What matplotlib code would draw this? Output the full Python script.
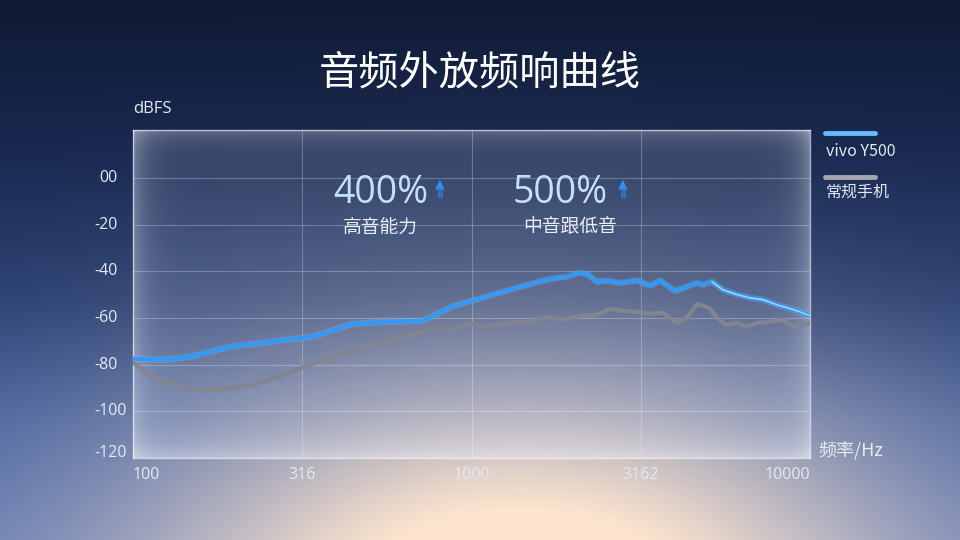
import numpy as np
import matplotlib
matplotlib.use("Agg")
import matplotlib.pyplot as plt
import matplotlib.patheffects as pe

plt.rcParams['font.family'] = ['Noto Sans CJK SC', 'DejaVu Sans']

# ---------------- data ----------------
title = "音频外放频响曲线"
series_names = ["vivo Y500", "常规手机"]
x_ticks = [100, 316, 1000, 3162, 10000]
x_tick_labels = ["100", "316", "1000", "3162", "10000"]
y_ticks = [0, -20, -40, -60, -80, -100, -120]
y_tick_labels = ["00", "-20", "-40", "-60", "-80", "-100", "-120"]

vivo_freq = [100, 123, 147, 194, 254, 340, 447, 563, 719, 882, 1391, 1705, 1915,
             2092, 2194, 2349, 2514, 2746, 3083, 3368, 3606, 3992, 4330, 4637,
             4830, 5134, 5534, 6086, 6649, 7264, 7991, 8729, 9342, 10000]
vivo_db = [-77.5, -77.9, -76.6, -72.4, -70.2, -68.0, -62.5, -61.7, -61.2, -55.0,
           -46.7, -43.3, -42.4, -40.7, -41.2, -44.5, -44.1, -45.0, -44.0, -46.2,
           -44.0, -48.4, -46.6, -45.0, -45.8, -44.5, -48.0, -50.0, -51.4, -52.2,
           -54.4, -56.0, -57.4, -59.1]

normal_freq = [100, 108.5, 124, 147, 169, 194, 226, 272, 318, 382, 447, 537, 628,
               770, 882, 990, 1060, 1214, 1391, 1489, 1672, 1864, 2092, 2349, 2566,
               2803, 3083, 3368, 3679, 4047, 4330, 4637, 5031, 5386, 5648, 6086,
               6516, 6973, 7619, 8323, 8908, 10000]
normal_db = [-79.0, -83.0, -87.5, -90.3, -90.8, -90.3, -88.6, -85.0, -81.0, -77.0,
             -73.7, -70.5, -68.0, -64.7, -65.0, -62.5, -63.8, -62.8, -61.7, -61.7,
             -59.5, -60.8, -59.1, -58.7, -56.1, -57.0, -57.4, -58.2, -57.8, -62.1,
             -60.0, -54.0, -55.7, -60.8, -63.0, -62.1, -63.8, -62.1, -61.7, -60.8,
             -63.8, -62.1]

annotations = [("400%", "高音能力"), ("500%", "中音跟低音")]

# ---------------- figure ----------------
W, H = 960, 540
fig = plt.figure(figsize=(9.6, 5.4), dpi=100)

# background
bg = fig.add_axes([0, 0, 1, 1], zorder=-10)
yy, xx = np.mgrid[0:H, 0:W].astype(float)
stops_y = [0, 150, 300, 420, 540]
stops_c = np.array([[16, 26, 52], [24, 40, 80], [42, 64, 115], [70, 98, 158], [92, 118, 178]], float)
base = np.stack([np.interp(yy, stops_y, stops_c[:, i]) for i in range(3)], axis=-1)
dx = (xx - 520) / 470.0
dy = (yy - 620) / 290.0
w = np.exp(-(dx ** 2 + dy ** 2) * 1.5)
w = np.clip(w * 1.25, 0, 1)[..., None]
glow = np.array([252, 228, 206], float)
img = base * (1 - w) + glow * w
bg.imshow(img.astype(np.uint8), extent=[0, W, H, 0], aspect='auto', interpolation='bilinear')
bg.set_xlim(0, W)
bg.set_ylim(H, 0)
bg.axis('off')

# panel position
L, R, T, B = 133, 810, 130, 458
pos = [L / W, 1 - B / H, (R - L) / W, (B - T) / H]

# frosted panel
pan = fig.add_axes(pos, zorder=-5)
ph, pw = B - T, R - L
py, px = np.mgrid[0:ph, 0:pw].astype(float)
d_lr = np.minimum(px, pw - 1 - px)
d_t = py
d_b = ph - 1 - py
alpha = 0.12 + 0.28 * np.exp(-d_lr / 14.0) + 0.20 * np.exp(-d_t / 12.0) + 0.32 * np.exp(-d_b / 14.0)
alpha = np.clip(alpha, 0, 0.75)
rgba = np.ones((ph, pw, 4))
rgba[..., 0:3] = np.array([0.93, 0.95, 1.0])
rgba[..., 3] = alpha
pan.imshow(rgba, extent=[0, pw, ph, 0], aspect='auto', interpolation='bilinear')
pan.set_xlim(0, pw)
pan.set_ylim(ph, 0)
pan.axis('off')

# main axes
ax = fig.add_axes(pos, zorder=1)
ax.set_facecolor('none')
ax.set_xscale('log')
ax.set_xlim(100, 10000)
ax.set_ylim(-120, 20.5)
for s in ax.spines.values():
    s.set_color((1, 1, 1, 0.6))
    s.set_linewidth(1.0)

for xv in x_ticks[1:-1]:
    ax.axvline(xv, color=(1, 1, 1, 0.25), lw=0.8, zorder=1)
for yv in y_ticks[:-1]:
    ax.axhline(yv, color=(1, 1, 1, 0.25), lw=0.8, zorder=1)

ax.plot(normal_freq, normal_db, color='#82858f', lw=3.0, solid_capstyle='round',
        solid_joinstyle='round', zorder=3)
ax.plot(vivo_freq, vivo_db, color='#3399f6', lw=3.0, solid_capstyle='round',
        solid_joinstyle='round', zorder=4,
        path_effects=[pe.Stroke(linewidth=4.5, foreground=(0.55, 0.8, 1.0, 0.25)), pe.Normal()])
# light highlight core on the upper-frequency part of the blue curve
hi_f = [f for f in vivo_freq if f >= 5000]
hi_d = [d for f, d in zip(vivo_freq, vivo_db) if f >= 5000]
ax.plot(hi_f, hi_d, color='#c8ecff', lw=1.0, alpha=0.8, solid_joinstyle='round', zorder=5)

ax.set_xticks(x_ticks)
ax.set_xticklabels([])
ax.set_yticks(y_ticks)
ax.set_yticklabels([])
ax.tick_params(length=0)
ax.xaxis.set_minor_locator(matplotlib.ticker.NullLocator())

txt_col = '#e4eaf4'
num_font = ['Open Sans', 'DejaVu Sans']
# x tick labels
for xv, lab in zip(x_ticks, x_tick_labels):
    ha = 'center'
    if lab == x_tick_labels[0]:
        ha = 'left'
    elif lab == x_tick_labels[-1]:
        ha = 'right'
    ax.annotate(lab, xy=(xv, 0), xycoords=('data', 'axes fraction'), xytext=(0, -17),
                textcoords='offset pixels', ha=ha, va='center', fontsize=11.5,
                color=txt_col, family=num_font)
# y tick labels (left aligned in a column left of the panel)
for yv, lab in zip(y_ticks, y_tick_labels):
    yo = 0 if yv > -120 else 5
    xo = -34 if lab.startswith('-') else -29
    ax.annotate(lab, xy=(0, yv), xycoords=('axes fraction', 'data'), xytext=(xo - 5, yo),
                textcoords='offset pixels', ha='left', va='center', fontsize=11.5,
                color=txt_col, family=num_font)

def fx(p):
    return p / W

def fy(p):
    return 1 - p / H

fig.text(0.5, fy(73), title, ha='center', va='center', fontsize=29, color='white')
fig.text(fx(133), fy(109), "dBFS", ha='left', va='center', fontsize=12, color=txt_col, family=num_font)
fig.text(fx(818), fy(451), "频率/Hz", ha='left', va='center', fontsize=13, color=txt_col)

# legend
leg_cols = ['#6ab9ff', '#a5a7b0']
leg_y = [133, 177]
lab_y = [152, 192]
for c, ly, ty, name in zip(leg_cols, leg_y, lab_y, series_names):
    fig.add_artist(plt.Line2D([fx(825), fx(875)], [fy(ly), fy(ly)], color=c, lw=3.5,
                              solid_capstyle='round'))
    fig.text(fx(826), fy(ty), name, ha='left', va='center', fontsize=11.5, color=txt_col,
             family=['Noto Sans CJK SC', 'DejaVu Sans'])

# annotations
ann_x = [333, 513]
arrow_x = [440, 623]
for (big, small), axx, arx in zip(annotations, ann_x, arrow_x):
    fig.text(fx(axx), fy(193), big, ha='left', va='center', fontsize=27, color='#c4e0ff',
             family=num_font)
    fig.text(fx(axx + 10), fy(227), small, ha='left', va='center', fontsize=13.5, color='#e8eef8')
    fig.text(fx(arx), fy(184), "▲", ha='center', va='center', fontsize=9, color='#2f8ef0',
             family=['DejaVu Sans'])
    fig.add_artist(plt.Rectangle((fx(arx - 2), fy(197)), 4 / W, 7 / H, color='#2f8ef0', alpha=0.45))

fig.savefig("out.png", dpi=100)
